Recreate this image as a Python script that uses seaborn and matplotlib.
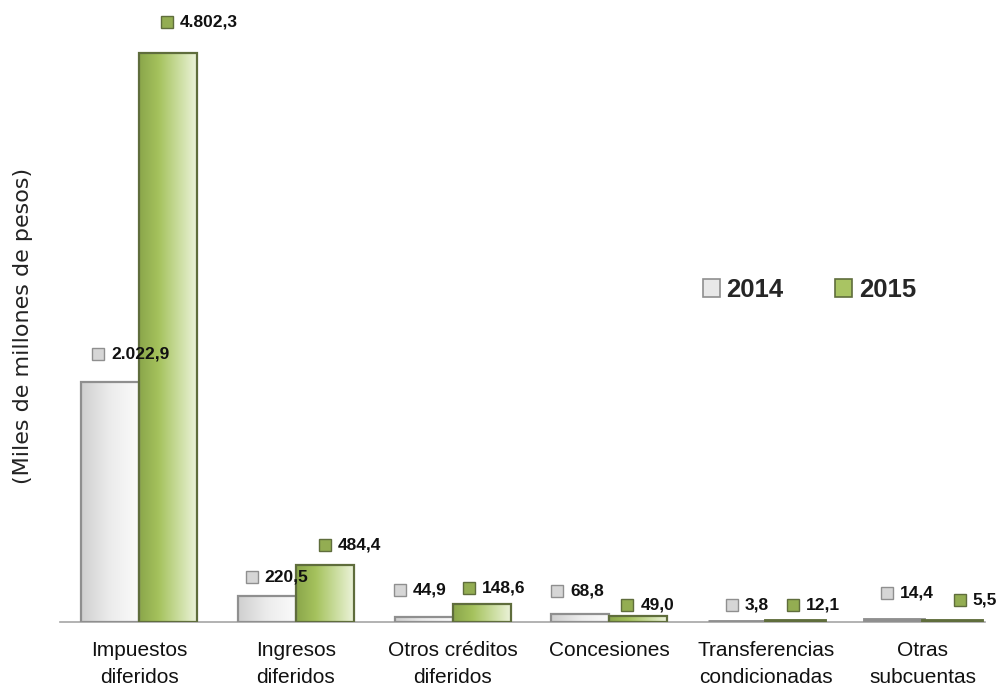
import numpy as np
import pandas as pd
import seaborn as sns
import matplotlib.pyplot as plt
from matplotlib import transforms
from matplotlib.patches import Patch, Rectangle
from matplotlib.colors import LinearSegmentedColormap

# === Datos ===
categories = ["Impuestos\ndiferidos", "Ingresos\ndiferidos", "Otros créditos\ndiferidos",
              "Concesiones", "Transferencias\ncondicionadas", "Otras\nsubcuentas"]
years = ["2014", "2015"]
v2014 = [2022.9, 220.5, 44.9, 68.8, 3.8, 14.4]
v2015 = [4802.3, 484.4, 148.6, 49.0, 12.1, 5.5]

df = pd.DataFrame({
    "categoria": categories * 2,
    "anio": [years[0]] * len(categories) + [years[1]] * len(categories),
    "valor": v2014 + v2015,
})

# label offsets (pixels from bar top-left, y down)
off_2014 = [(10, -28), (7, -19), (-2, -27), (-1, -23), (17, -17), (15, -27)]
off_2015 = [(21, -31), (22, -20), (9, -16), (11, -11), (20, -16), (30, -21)]


def fmt_es(v):
    return f"{v:,.1f}".replace(",", "X").replace(".", ",").replace("X", ".")


sns.set_theme(style="white")
plt.rcParams["font.family"] = ["Liberation Sans", "DejaVu Sans"]

fig = plt.figure(figsize=(9.98, 6.89), dpi=100)
ax = fig.add_axes([60 / 998, 67 / 689, 925 / 998, 602 / 689])

face = {"2014": "#e6e6e6", "2015": "#a3c05c"}
edge = {"2014": "#8f8f8f", "2015": "#5f6d3c"}
sns.barplot(data=df, x="categoria", y="valor", hue="anio", palette=face,
            width=0.74, gap=0, legend=False, ax=ax)

cmaps = {
    "2014": LinearSegmentedColormap.from_list("g14", ["#cfcfcf", "#ececec", "#fbfbfb"]),
    "2015": LinearSegmentedColormap.from_list("g15", ["#8aa64a", "#a5c25d", "#c9dc9c", "#eef4dd"]),
}
grad = np.linspace(0, 1, 256)[None, :]

ax.set_xlim(-0.504, 5.396)
ax.set_ylim(0, 5080)
px_per_unit = 602 / 5080

for year, cont, offs in zip(years, ax.containers, [off_2014, off_2015]):
    for bar, (dx, dy) in zip(cont, offs):
        x0, w = bar.get_x(), bar.get_width()
        h = bar.get_height()
        im = ax.imshow(grad, cmap=cmaps[year], extent=[x0, x0 + w, 0, h],
                       aspect="auto", interpolation="bicubic", zorder=2.5)
        im.set_clip_path(bar)
        lw = 1.6 if h * px_per_unit > 4 else 3.5
        ax.add_patch(Rectangle((x0, 0), w, h, fill=False, ec=edge[year],
                               lw=lw, zorder=3))
        # data label with legend key
        tr_sq = transforms.offset_copy(ax.transData, fig=fig, x=dx + 7, y=-dy, units="dots")
        ax.plot([x0], [h], marker="s", ms=9, mfc="#d6d6d6" if year == "2014" else "#93ad52",
                mec=edge[year], mew=1.0, transform=tr_sq, clip_on=False, zorder=5)
        ax.annotate(fmt_es(h), xy=(x0, h), xytext=(dx + 20, -dy),
                    textcoords="offset pixels", ha="left", va="center",
                    fontsize=12.5, fontweight="bold", color="#111111", zorder=6)

ax.set_xlim(-0.504, 5.396)
ax.set_ylim(0, 5080)

ax.set_xlabel("")
ax.set_ylabel("")
ax.set_yticks([])
ax.tick_params(axis="x", length=0, pad=14)
for lab in ax.get_xticklabels():
    lab.set_fontsize(15)
    lab.set_linespacing(1.5)
    lab.set_color("#111111")
for s in ["top", "right", "left"]:
    ax.spines[s].set_visible(False)
ax.spines["bottom"].set_color("#a6a6a6")
ax.spines["bottom"].set_linewidth(1.2)

fig.text(23 / 998, 1 - 326 / 689, "(Miles de millones de pesos)", rotation=90,
         ha="center", va="center", fontsize=16, family=["DejaVu Sans"], color="#222222")

handles = [Patch(facecolor="#e8e8e8", edgecolor="#8f8f8f", lw=1.2, label="2014"),
           Patch(facecolor="#a9c463", edgecolor="#5f6d3c", lw=1.2, label="2015")]
leg = ax.legend(handles=handles, loc="center left", bbox_to_anchor=(0.695, 0.5515),
                ncol=2, frameon=False, borderpad=0, borderaxespad=0,
                handlelength=0.65, handleheight=0.65, handletextpad=0.27,
                columnspacing=2.0, prop={"size": 18.5, "weight": "bold"})

fig.savefig("out.png", dpi=100)
